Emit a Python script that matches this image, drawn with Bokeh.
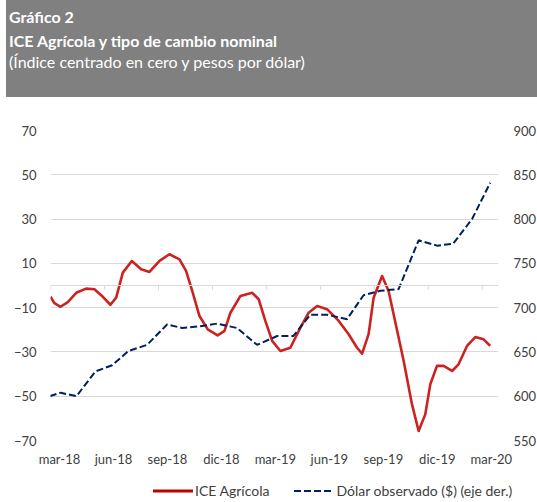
from bokeh.plotting import figure
from bokeh.layouts import column
from bokeh.models import (LinearAxis, Range1d, FixedTicker, Span, Div)
from bokeh.embed import file_html
from bokeh.resources import INLINE

# ---- data (x = months since mar-18) ----
tick_months = [0, 3, 6, 9, 12, 15, 18, 21, 24]
tick_labels = ["mar-18", "jun-18", "sep-18", "dic-18", "mar-19", "jun-19", "sep-19", "dic-19", "mar-20"]

ice_x = [-0.5, -0.28, 0.06, 0.46, 0.93, 1.48, 1.94, 2.41, 2.83, 3.15, 3.52, 4.02, 4.54, 5.0,
         5.56, 6.11, 6.67, 7.04, 7.41, 7.78, 8.24, 8.79, 9.17, 9.5, 10.06, 10.71, 11.07,
         11.44, 11.82, 12.28, 12.83, 13.39, 13.85, 14.32, 14.87, 15.52, 16.07, 16.54, 16.82,
         17.18, 17.46, 17.93, 18.29, 18.57, 19.13, 19.59, 19.96, 20.33, 20.61, 20.98, 21.35,
         21.82, 22.18, 22.65, 23.11, 23.57, 23.94]
ice_y = [-5.1, -8.0, -9.6, -7.5, -3.3, -1.4, -1.7, -5.1, -8.7, -5.5, 5.8, 11.1, 7.3, 6.1,
         11.1, 14.1, 11.8, 6.5, -3.3, -13.8, -19.8, -22.5, -20.5, -12.3, -4.7, -3.3, -6.2,
         -16, -25, -29.6, -28.1, -19, -12.3, -9.3, -10.7, -16, -22, -28.1, -30.8,
         -22, -5.5, 4.3, -2.5, -13, -34.1, -53.6, -65.7, -58.2, -44.6, -36.3, -36.3,
         -38.6, -35.6, -27.3, -23.3, -24.3, -27.3]

usd_x = [-0.54, 0.06, 0.94, 2.0, 2.93, 3.83, 4.87, 5.98, 6.82, 7.83, 8.76, 9.87, 10.98,
         12.1, 13.0, 13.94, 14.87, 15.98, 16.9, 17.83, 18.85, 19.96, 20.98, 21.87, 22.93, 23.94]
usd_y = [600, 604, 600, 628, 635, 651, 658, 681, 677, 679, 682, 677, 658,
         668, 668, 692, 692, 687, 714, 719, 721, 776, 770, 772, 800, 841]

left_ticks = [-70, -50, -30, -10, 10, 30, 50, 70]
right_ticks = [550, 600, 650, 700, 750, 800, 850, 900]

title_lines = ["Gráfico 2", "ICE Agrícola y tipo de cambio nominal",
               "(Índice centrado en cero y pesos por dólar)"]
series_names = ["ICE Agrícola", "Dólar observado ($) (eje der.)"]

FONT = "Lato"
TXT = "#404040"
GRID = "#d9d9d9"
HEAD = "#808080"
RED = "#CC2222"
NAVY = "#002060"

# ---------- header ----------
html = (
    f'<div style="font-family:{FONT};font-size:16px;color:white;padding:4px 0 0 3px;">'
    f'<div style="font-weight:bold;line-height:26px;white-space:nowrap;">{title_lines[0]}</div>'
    f'<div style="font-weight:bold;line-height:21px;white-space:nowrap;">{title_lines[1]}</div>'
    f'<div style="font-weight:normal;line-height:21px;white-space:nowrap;">{title_lines[2]}</div>'
    '</div>'
)
h = Div(text=html, width=531, height=97, margin=(0, 0, 0, 6),
        styles={"background-color": HEAD})

# ---------- chart ----------
p = figure(output_backend="svg", toolbar_location=None,
           x_range=Range1d(-0.5, 24.4), y_range=Range1d(-70, 70),
           frame_width=448, frame_height=310,
           min_border_left=50, min_border_right=39, min_border_top=33, min_border_bottom=28)
p.outline_line_color = None
p.background_fill_color = "white"
p.border_fill_color = "white"
p.extra_y_ranges = {"usd": Range1d(550, 900)}

ya = p.yaxis[0]
ya.ticker = FixedTicker(ticks=left_ticks)
ra = LinearAxis(y_range_name="usd", ticker=FixedTicker(ticks=right_ticks))
p.add_layout(ra, "right")
xa = p.xaxis[0]
xa.ticker = FixedTicker(ticks=tick_months)
xa.major_label_overrides = {t: l for t, l in zip(tick_months, tick_labels)}

for ax, so in [(ya, 14), (ra, 15), (xa, 10)]:
    ax.axis_line_color = None
    ax.major_tick_line_color = None
    ax.minor_tick_line_color = None
    ax.major_tick_out = 0
    ax.major_tick_in = 0
    ax.minor_tick_out = 0
    ax.minor_tick_in = 0
    ax.major_label_standoff = so
    ax.major_label_text_font = FONT
    ax.major_label_text_font_size = "13px"
    ax.major_label_text_color = TXT

p.xgrid.grid_line_color = None
p.ygrid.ticker = FixedTicker(ticks=left_ticks)
p.ygrid.grid_line_color = GRID
p.ygrid.grid_line_width = 1

# category axis line at zero with tick marks between categories
p.add_layout(Span(location=0, dimension="width", line_color=GRID, line_width=1))
tx = [t - 0.5 for t in tick_months]
p.segment(x0=tx, x1=tx, y0=[0] * len(tx), y1=[-2] * len(tx), line_color=GRID, line_width=1)

p.line(ice_x, ice_y, line_color=RED, line_width=2.6, line_join="round")
p.line(usd_x, usd_y, y_range_name="usd", line_color=NAVY, line_width=2, line_dash="7 3")

# ---------- legend (below the chart) ----------
leg_html = (
    f'<div style="display:flex;align-items:center;height:20px;margin-top:12px;padding-left:153px;'
    f'font-family:{FONT};font-size:14px;color:{TXT};white-space:nowrap;">'
    f'<svg width="40" height="20"><line x1="0" y1="10" x2="40" y2="10" stroke="#C00000" stroke-width="3"/></svg>'
    f'<span style="margin-left:2px;margin-right:25px;">{series_names[0]}</span>'
    f'<svg width="40" height="20"><line x1="0" y1="10" x2="40" y2="10" stroke="{NAVY}" stroke-width="2" stroke-dasharray="7 3"/></svg>'
    f'<span style="margin-left:2px;">{series_names[1]}</span>'
    '</div>'
)
leg = Div(text=leg_html, width=537, height=32, margin=0)

layout = column(h, p, leg, spacing=0)
open("out.html", "w").write(file_html(layout, INLINE))
